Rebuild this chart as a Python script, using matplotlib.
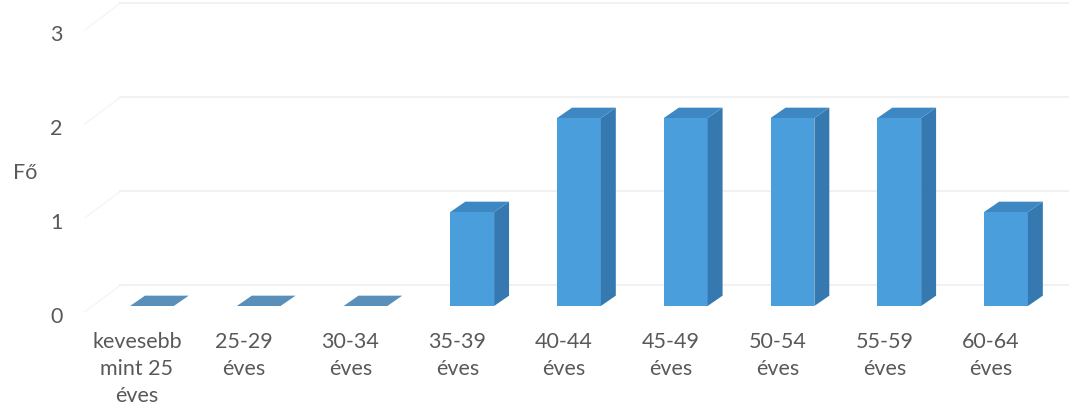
import matplotlib.pyplot as plt
from matplotlib.patches import Polygon

plt.rcParams['font.family'] = ['Lato', 'DejaVu Sans']

# Adatok
categories = ['kevesebb\nmint 25\néves', '25-29\néves', '30-34\néves', '35-39\néves',
              '40-44\néves', '45-49\néves', '50-54\néves', '55-59\néves', '60-64\néves']
values = [0, 0, 0, 1, 2, 2, 2, 2, 1]
yticks = [0, 1, 2, 3]

text_color = '#595959'
front_color = '#4a9edb'
top_color = '#3d88c2'
side_color = '#3679b0'
grid_color = '#efefef'

fig = plt.figure(figsize=(10.69, 4.10), dpi=100)
ax = fig.add_axes([85 / 1069, 103 / 410, 984 / 1069, 305.5 / 410])
ax.set_xlim(-0.487, 8.73)
ax.set_ylim(0, 3.25)

# hátsó fal rácsvonalai (eltolva, mint a 3D diagramon)
back_dx, back_dy = 0.33, 0.22
x_left, x_right = ax.get_xlim()
for t in yticks:
    ax.plot([x_left, x_left + back_dx], [t - 0.06, t + back_dy],
            color='#f5f5f5', lw=1.0, zorder=0, clip_on=False)
    ax.plot([x_left + back_dx, x_right], [t + back_dy, t + back_dy],
            color=grid_color, lw=1.2, zorder=0, clip_on=False)

# oszlopok: elülső lap + tető + oldal
shift, w = 0.14, 0.41
dx, dy = 0.14, 0.11
ax.bar([i + shift for i in range(len(values))], values, width=w,
       color=front_color, zorder=2)
for i, v in enumerate(values):
    x0 = i + shift - w / 2
    x1 = x0 + w
    top = Polygon([(x0, v), (x1, v), (x1 + dx, v + dy), (x0 + dx, v + dy)],
                  closed=True, color=top_color if v > 0 else '#5a8fba', zorder=3, lw=0)
    side = Polygon([(x1, 0), (x1 + dx, dy), (x1 + dx, v + dy), (x1, v)],
                   closed=True, color=side_color, zorder=3, lw=0)
    ax.add_patch(side)
    ax.add_patch(top)

ax.set_xticks(range(len(categories)))
ax.set_xticklabels(categories, linespacing=1.45)
ax.set_yticks(yticks)
ax.tick_params(axis='x', length=0, pad=18, labelsize=15.5, labelcolor=text_color)
ax.tick_params(axis='y', length=0, pad=16, labelsize=15.5, labelcolor=text_color)
for lbl in ax.get_yticklabels():
    lbl.set_va('top')
    lbl.set_y(0)
for s in ax.spines.values():
    s.set_visible(False)

fig.text(25 / 1069, 1 - 173 / 410, 'Fő', ha='center', va='center',
         fontsize=15.5, color=text_color)

fig.savefig('out.png', dpi=100)
